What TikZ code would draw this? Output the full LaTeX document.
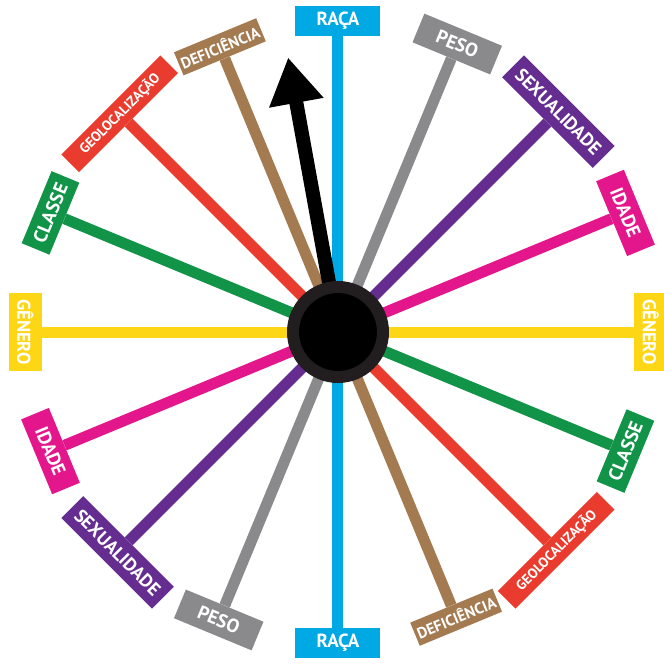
\documentclass[tikz,border=0pt]{standalone}
\usepackage{fontspec}
\newfontfamily\signfont{PT Sans}
\usetikzlibrary{arrows.meta}

\definecolor{racacol}{RGB}{0,168,228}
\definecolor{pesocol}{RGB}{138,138,141}
\definecolor{sexocol}{RGB}{102,45,145}
\definecolor{idadecol}{RGB}{228,22,140}
\definecolor{generocol}{RGB}{253,214,22}
\definecolor{classecol}{RGB}{18,148,72}
\definecolor{geocol}{RGB}{234,60,46}
\definecolor{deficcol}{RGB}{164,122,80}
\definecolor{hubring}{RGB}{34,30,31}

\begin{document}
\begin{tikzpicture}[x=1pt, y=1pt,
    sign/.style={fill=#1, text=white, inner sep=0pt, font=\signfont\bfseries},
    spoke/.style={draw=#1, line width=11pt},
    pointer/.style={line width=14pt, -{Triangle[length=46pt,width=52pt]}},
    hub/.style={circle, fill=black, draw=hubring, line width=12pt, minimum size=90pt, inner sep=0pt}]
    \useasboundingbox (-338,-333) rectangle (326,332);
    % each stick carries the same sign at both ends
    \foreach \ang/\nm/\col/\txt/\signw/\signh/\fsz in {
        90/raca/racacol/RAÇA/85/30/19,
        67.5/peso/pesocol/PESO/84/31/19,
        45/sexo/sexocol/SEXUALIDADE/128/31/18.5,
        22.5/idade/idadecol/IDADE/81/30/19,
        0/genero/generocol/GÊNERO/78/33/18.5,
        157.5/classe/classecol/CLASSE/78/30/19,
        135/geo/geocol/GEOLOCALIZAÇÃO/140/25/14,
        112.5/defic/deficcol/DEFICIÊNCIA/89/25/15.5} {
      \node[sign=\col, minimum width=\signw, minimum height=\signh, rotate=\ang-90,
            anchor=south, font=\signfont\bfseries\fontsize{\fsz}{\fsz}\selectfont]
            (\nm-a) at (\ang:296) {\txt};
      \node[sign=\col, minimum width=\signw, minimum height=\signh, rotate=\ang-90,
            anchor=north, font=\signfont\bfseries\fontsize{\fsz}{\fsz}\selectfont]
            (\nm-b) at ({\ang+180}:296) {\txt};
      \draw[spoke=\col] (\nm-a.south) -- (\nm-b.north);
    }
    \coordinate (pivot) at (0,0);
    \coordinate (tip) at (100.3:279);
    \draw[pointer] (pivot) -- (tip);
    \node[hub] (hub) at (pivot) {};
\end{tikzpicture}
\end{document}
